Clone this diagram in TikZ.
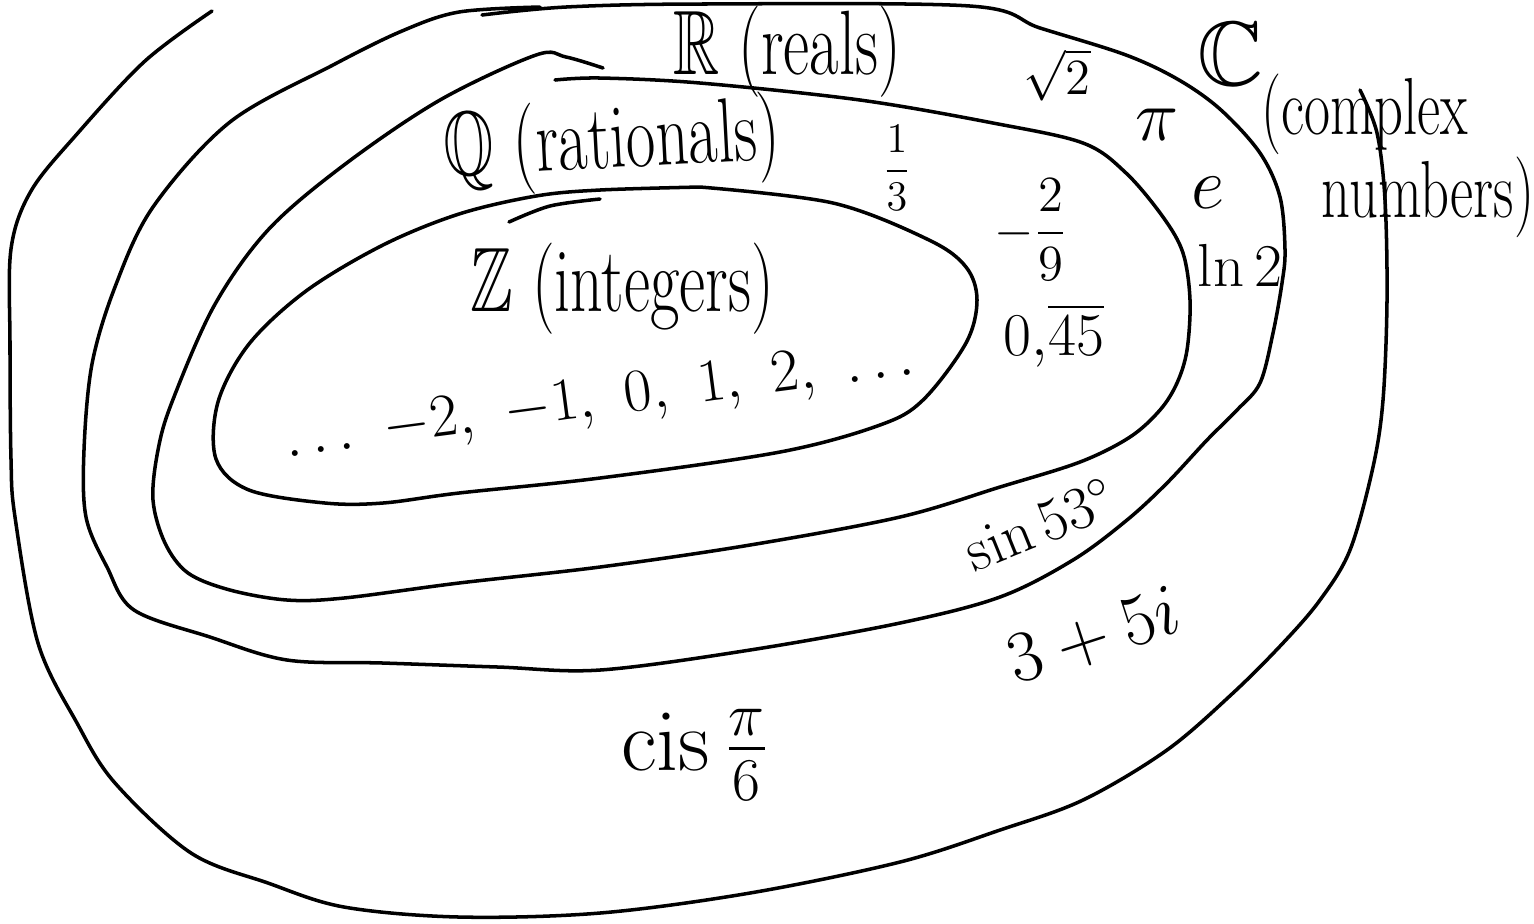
\documentclass[tikz,border=0pt]{standalone}
\usepackage{amsmath,amssymb}
\usepackage{graphicx}
\newcommand{\hw}[1]{\scalebox{0.7}[1]{#1}}
\begin{document}
\begin{tikzpicture}[x=0.01cm, y=-0.01cm, line width=1pt, line join=round, line cap=round]
\tikzset{
	ring/.style={smooth, tension=0.55},
	setname/.style={inner sep=0pt, font=\fontsize{26}{28}\selectfont},
	member/.style={inner sep=0pt, font=\fontsize{20}{22}\selectfont}
}
\useasboundingbox (0,0) rectangle (1534,923);

% C (complex), open at the top
\draw plot[ring] coordinates {(212,11) (145,61) (77,134) (31,191) (11,249) (10,344) (11,459) (15,517) (38,643) (77,723) (115,783) (191,853) (268,883) (344,907) (459,917) (600,913) (750,893) (900,862) (1000,830) (1083,800) (1167,750) (1233,693) (1283,643) (1320,600) (1350,550) (1373,467) (1383,400) (1387,300) (1385,200) (1377,133) (1360,90)};

% R (reals)
\draw plot[ring] coordinates {(482,15) (566,7) (700,4) (970,6) (1040,28) (1126,55) (1179,80) (1221,110) (1260,153) (1280,197) (1285,250) (1282,283) (1273,333) (1260,383) (1237,410) (1207,440) (1167,483) (1127,520) (1073,560) (1000,597) (900,623) (750,650) (600,670) (498,667) (383,663) (287,660) (210,637) (134,610) (107,567) (86,517) (84,450) (92,364) (115,287) (153,207) (230,122) (333,65) (402,31) (459,12) (540,7)};

% Q (rationals)
\draw plot[ring] coordinates {(555,80) (600,78) (700,83) (860,100) (993,123) (1083,143) (1126,173) (1163,217) (1183,253) (1190,300) (1187,350) (1177,383) (1160,410) (1130,437) (1080,462) (1000,487) (900,517) (750,545) (600,567) (459,583) (344,598) (287,600) (230,590) (188,573) (165,543) (153,500) (158,450) (172,402) (214,306) (268,230) (344,165) (440,100) (536,55) (566,57) (603,68)};

% Z (integers)
\draw plot[ring] coordinates {(700,187) (600,190) (536,196) (459,214) (383,245) (306,291) (249,344) (218,402) (216,459) (249,490) (325,503) (383,503) (459,493) (600,478) (780,452) (880,425) (923,400) (966,343) (977,300) (966,267) (929,240) (833,203) (700,187)};
\draw plot[ring] coordinates {(509,222) (550,206) (600,199)};

% set names
\node[setname] (reals) at (787,52) {\hw{$\mathbb{R}$ (reals)}};
\node[setname, rotate=3] (rationals) at (612,145) {\hw{$\mathbb{Q}$ (rationals)}};
\node[setname] (integers) at (622,289) {\hw{$\mathbb{Z}$ (integers)}};
\node[setname] (complex) at (1230,54) {$\mathbb{C}$};
\node[inner sep=0pt, font=\fontsize{23}{25}\selectfont] (cplxa) at (1365,114) {\hw{(complex}};
\node[inner sep=0pt, font=\fontsize{23}{25}\selectfont] (cplxb) at (1428,197) {\hw{numbers)}};

% members
\node[member, rotate=7.5, font=\fontsize{18.5}{20}\selectfont] (ints) at (600,402) {$\ldots\ {-2},\ {-1},\ 0,\ 1,\ 2,\ \ldots$};
\node[member, font=\fontsize{12}{14}\selectfont] (third) at (897,168) {$\dfrac{1}{3}$};
\node[member, font=\fontsize{15}{17}\selectfont] (ninths) at (1031,230) {$-\dfrac{2}{9}$};
\node[member, font=\fontsize{18}{20}\selectfont] (repeat) at (1054,335) {$0{,}\overline{45}$};
\node[member, font=\fontsize{15}{17}\selectfont] (root) at (1057,75) {$\sqrt{2}$};
\node[member] (pi) at (1157,125) {$\pi$};
\node[member, font=\fontsize{22}{24}\selectfont] (euler) at (1208,193) {$e$};
\node[member, font=\fontsize{17}{19}\selectfont] (log) at (1240,265) {$\ln 2$};
\node[member, rotate=22, font=\fontsize{17}{19}\selectfont] (sine) at (1040,524) {$\sin 53^\circ$};
\node[member, rotate=18, font=\fontsize{21}{23}\selectfont] (gauss) at (1094,637) {$3+5i$};
\node[member, font=\fontsize{23}{25}\selectfont] (cis) at (695,755) {$\operatorname{cis}\frac{\pi}{6}$};

\end{tikzpicture}
\end{document}
